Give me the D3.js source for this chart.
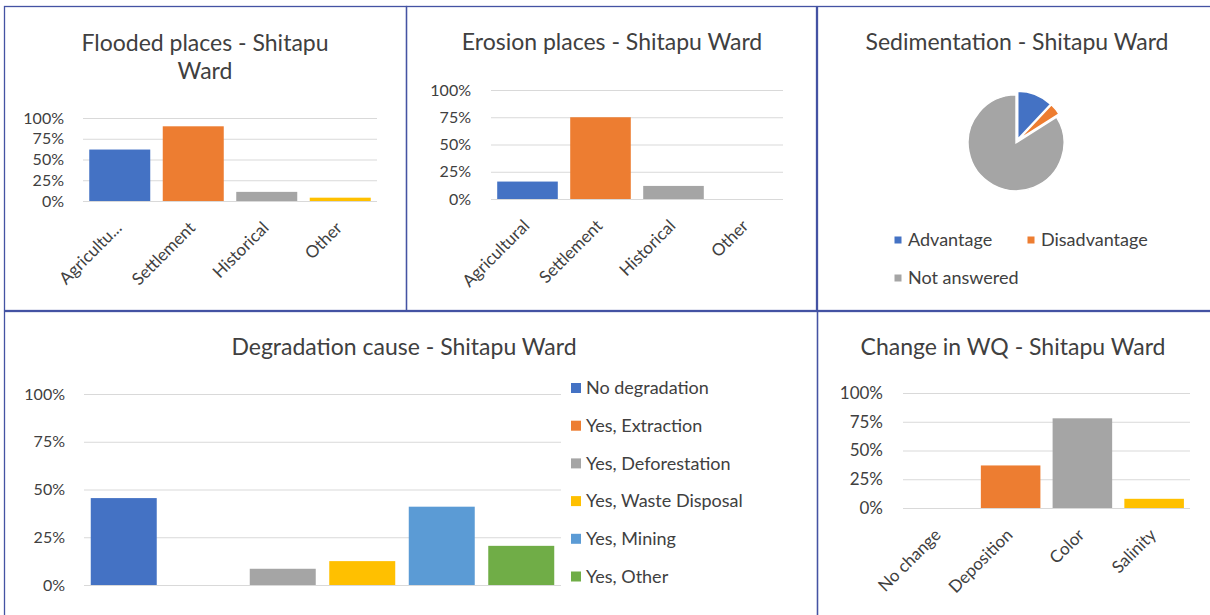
<!DOCTYPE html>
<meta charset="utf-8">
<style>
  body { margin: 0; background: #fff; }
  text { font-family: Lato, "Noto Sans", sans-serif; fill: #404040; }
  .grid line { stroke: #d9d9d9; stroke-width: 1.2px; }
  .grid .domain { display: none; }
</style>
<svg width="1210" height="615"></svg>
<script src="https://d3js.org/d3.v7.min.js"></script>
<script>
  var svg = d3.select("svg");

  // ---- data ----
  var tickVals = [0, 0.25, 0.5, 0.75, 1];
  var palette = ["#4472C4", "#ED7D31", "#A5A5A5", "#FFC000", "#5B9BD5", "#70AD47"];

  var floodCats = ["Agricultu...", "Settlement", "Historical", "Other"];
  var floodVals = [0.62, 0.90, 0.11, 0.04];

  var erosionCats = ["Agricultural", "Settlement", "Historical", "Other"];
  var erosionVals = [0.16, 0.75, 0.12, 0];

  var sedCats = ["Advantage", "Disadvantage", "Not answered"];
  var sedVals = [0.12, 0.04, 0.84];

  var degCats = ["No degradation", "Yes, Extraction", "Yes, Deforestation", "Yes, Waste Disposal", "Yes, Mining", "Yes, Other"];
  var degVals = [0.455, 0, 0.085, 0.125, 0.41, 0.205];

  var wqCats = ["No change", "Deposition", "Color", "Salinity"];
  var wqVals = [0, 0.37, 0.78, 0.08];

  // panel frames
  var frames = [[4, 6, 402, 304], [406, 6, 410, 304], [817, 6, 400, 304], [4, 311, 813, 310], [817, 311, 400, 310]];
  svg.selectAll("rect.frame").data(frames).enter().append("rect")
    .attr("class", "frame")
    .attr("x", d => d[0] + 0.5).attr("y", d => d[1] + 0.5)
    .attr("width", d => d[2]).attr("height", d => d[3])
    .attr("fill", "none").attr("stroke", "#4453a3").attr("stroke-width", 1.3);

  function title(lines, cx, y, size) {
    var t = svg.append("text").attr("text-anchor", "middle").attr("font-size", size);
    lines.forEach((l, i) => t.append("tspan").attr("x", cx).attr("y", y + i * 28).text(l));
  }

  function barChart(o) {
    var g = svg.append("g");
    var x = d3.scaleBand().domain(o.cats).range([o.x0, o.x1]).paddingInner(0.17).paddingOuter(0.085);
    var y = d3.scaleLinear().domain([0, 1]).range([o.y1, o.y0]);

    g.append("g").attr("class", "grid")
      .attr("transform", "translate(" + o.x0 + ",0)")
      .call(d3.axisLeft(y).tickValues(tickVals).tickFormat(d3.format(".0%"))
        .tickSize(-(o.x1 - o.x0)).tickPadding(o.pad))
      .call(a => a.selectAll("text").attr("font-size", o.tickSize).attr("font-family", "Lato").attr("fill", "#404040"));

    g.selectAll("rect.bar").data(o.vals).enter().append("rect")
      .attr("x", (d, i) => x(o.cats[i]))
      .attr("width", x.bandwidth())
      .attr("y", d => y(d))
      .attr("height", d => o.y1 - y(d))
      .attr("fill", (d, i) => palette[i]);

    if (o.rotate) {
      g.selectAll("text.xl").data(o.cats).enter().append("text")
        .attr("font-size", o.labelSize)
        .attr("text-anchor", "end")
        .attr("transform", d => "translate(" + (x(d) + x.bandwidth() / 2 + 3) + "," + (o.y1 + 28) + ") rotate(-45)")
        .text(d => d);
    }
    return x;
  }

  // Flooded places
  title(["Flooded places - Shitapu", "Ward"], 205, 51, 23);
  barChart({ cats: floodCats, vals: floodVals, x0: 83, x1: 377, y0: 118, y1: 201, pad: 19, tickSize: 16, rotate: true, labelSize: 17 });

  // Erosion places
  title(["Erosion places - Shitapu Ward"], 612, 50, 23);
  barChart({ cats: erosionCats, vals: erosionVals, x0: 491, x1: 783, y0: 90, y1: 199, pad: 20, tickSize: 16, rotate: true, labelSize: 17 });

  // Sedimentation pie
  title(["Sedimentation - Shitapu Ward"], 1017, 50, 23);
  var pie = d3.pie().sort(null).value(d => d);
  var arc = d3.arc().innerRadius(0).outerRadius(48);
  var pg = svg.append("g").attr("transform", "translate(1017,141)");
  pg.selectAll("path").data(pie(sedVals)).enter().append("path")
    .attr("d", arc)
    .attr("fill", (d, i) => palette[i])
    .attr("stroke", "#fff").attr("stroke-width", 1.5)
    .attr("transform", d => {
      var a = (d.startAngle + d.endAngle) / 2;
      return "translate(" + (2 * Math.sin(a)) + "," + (-2 * Math.cos(a)) + ")";
    });
  var sedLegendPos = [[898, 240], [1031, 240], [898, 278]];
  var sl = svg.selectAll("g.sl").data(sedCats).enter().append("g")
    .attr("transform", (d, i) => "translate(" + sedLegendPos[i][0] + "," + sedLegendPos[i][1] + ")");
  sl.append("rect").attr("x", -3.5).attr("y", -3.5).attr("width", 7).attr("height", 7).attr("fill", (d, i) => palette[i]);
  sl.append("text").attr("x", 10).attr("dy", "0.35em").attr("font-size", 18).text(d => d);

  // Degradation cause
  title(["Degradation cause - Shitapu Ward"], 404, 355, 23);
  barChart({ cats: degCats, vals: degVals, x0: 84, x1: 561, y0: 394, y1: 585, pad: 19, tickSize: 16, rotate: false });
  var dl = svg.selectAll("g.dl").data(degCats).enter().append("g")
    .attr("transform", (d, i) => "translate(575," + (388 + i * 37.7) + ")");
  dl.append("rect").attr("x", -4).attr("y", -5).attr("width", 10).attr("height", 10).attr("fill", (d, i) => palette[i]);
  dl.append("text").attr("x", 11).attr("dy", "0.35em").attr("font-size", 18).text(d => d);

  // Change in WQ
  title(["Change in WQ - Shitapu Ward"], 1013, 355, 23);
  barChart({ cats: wqCats, vals: wqVals, x0: 903, x1: 1190, y0: 393, y1: 508, pad: 20, tickSize: 17, rotate: true, labelSize: 17 });
</script>
